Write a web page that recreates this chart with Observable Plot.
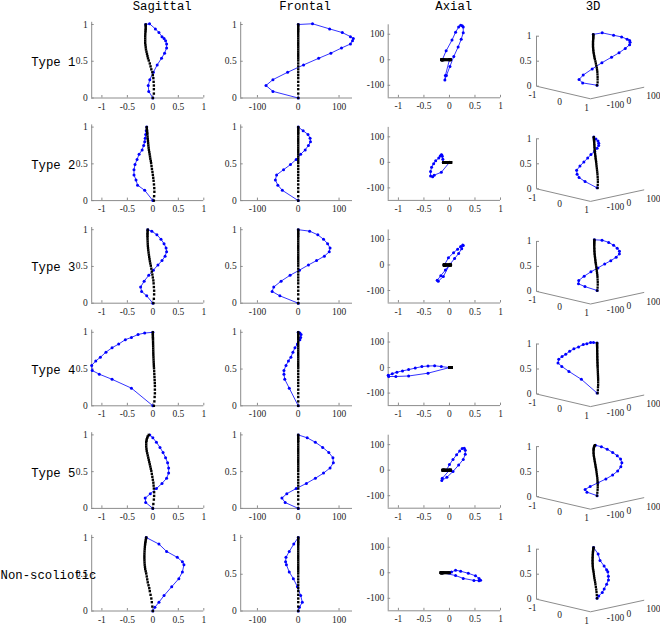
<!DOCTYPE html>
<html><head><meta charset="utf-8">
<script src="https://cdn.jsdelivr.net/npm/d3@7"></script>
<script src="https://cdn.jsdelivr.net/npm/@observablehq/plot@0.6"></script>
<style>
body{margin:0;background:#fff;}
#root{position:relative;width:660px;height:625px;overflow:hidden;background:#fff;}
#root svg{position:absolute;overflow:visible;background:transparent;}
</style></head><body><div id="root"></div>
<script>
// ---------- data ----------
const columns = ["Sagittal", "Frontal", "Axial", "3D"];
const rowLabels = ["Type 1", "Type 2", "Type 3", "Type 4", "Type 5", "Non-scoliotic"];
const sagTicks = [-1, -0.5, 0, 0.5, 1];
const frontTicks = [-100, 0, 100];
const axialXTicks = [-1, -0.5, 0, 0.5, 1];
const axialYTicks = [-100, 0, 100];
const heightTicks = [0, 0.5, 1];
const d3STicks = [-1, 0, 1];
const d3FTicks = [-100, 0, 100];

// black (reference spine): heights, sagittal offsets per type, frontal offsets
const blackH = [0, 0.06, 0.12, 0.17, 0.22, 0.27, 0.31, 0.35, 0.39, 0.43, 0.47, 0.51, 0.54, 0.57, 0.60, 0.63, 0.66, 0.69, 0.72, 0.75, 0.78, 0.81, 0.84, 0.87, 0.90, 0.92, 0.94, 0.96, 0.98, 1.0];
const blackF = [0,0,0,0,0,0,0,0,0,0,0,0,0,0,0,0,0,0,0,0,0,0,0,0,0,0,0,0,0,0];
const blackS1 = [0, 0.02, 0.02, 0.02, 0.015, 0.01, 0, -0.01, -0.03, -0.045, -0.06, -0.08, -0.095, -0.105, -0.115, -0.125, -0.135, -0.14, -0.145, -0.15, -0.15, -0.15, -0.15, -0.148, -0.145, -0.143, -0.14, -0.14, -0.14, -0.14];
const blackS2 = [0.02, 0.025, 0.03, 0.028, 0.022, 0.015, 0.008, 0, -0.008, -0.018, -0.026, -0.034, -0.04, -0.05, -0.056, -0.063, -0.07, -0.078, -0.083, -0.088, -0.092, -0.096, -0.1, -0.104, -0.108, -0.11, -0.113, -0.115, -0.118, -0.12];
const blackS3 = [0.01, 0.02, 0.025, 0.025, 0.02, 0.015, 0.01, 0, -0.01, -0.02, -0.03, -0.04, -0.05, -0.058, -0.065, -0.072, -0.078, -0.084, -0.09, -0.094, -0.098, -0.1, -0.102, -0.104, -0.105, -0.105, -0.105, -0.104, -0.102, -0.1];
const blackS4 = [0.02, 0.03, 0.035, 0.04, 0.04, 0.04, 0.038, 0.035, 0.032, 0.029, 0.026, 0.023, 0.02, 0.018, 0.016, 0.014, 0.012, 0.01, 0.009, 0.008, 0.007, 0.006, 0.005, 0.004, 0.003, 0.002, 0.001, 0, 0, 0];
const blackS5 = [0, 0.01, 0.02, 0.025, 0.025, 0.02, 0.015, 0.01, 0, -0.01, -0.02, -0.03, -0.04, -0.05, -0.06, -0.07, -0.08, -0.09, -0.1, -0.11, -0.12, -0.125, -0.13, -0.13, -0.13, -0.125, -0.12, -0.11, -0.1, -0.08];
const blackS6 = [0, -0.01, -0.02, -0.03, -0.045, -0.06, -0.07, -0.085, -0.1, -0.11, -0.12, -0.13, -0.14, -0.15, -0.155, -0.16, -0.163, -0.165, -0.166, -0.166, -0.165, -0.163, -0.16, -0.157, -0.153, -0.15, -0.145, -0.14, -0.135, -0.13];

// blue (subject curve): height, sagittal offset, frontal offset
const blueH1 = [1.0, 1.01, 0.94, 0.89, 0.835, 0.81, 0.78, 0.735, 0.68, 0.61, 0.54, 0.45, 0.35, 0.25, 0.17, 0.09, 0];
const blueS1 = [-0.14, -0.065, 0.05, 0.12, 0.18, 0.22, 0.25, 0.27, 0.27, 0.23, 0.17, 0.085, 0.01, -0.06, -0.09, -0.08, 0];
const blueF1 = [0, 35, 77, 108, 128, 135, 133, 128, 106, 80, 50, 13, -26, -62, -79, -62, 0];

const blueH2 = [1.0, 0.95, 0.9, 0.85, 0.8, 0.75, 0.69, 0.63, 0.56, 0.49, 0.42, 0.35, 0.28, 0.21, 0.14, 0];
const blueS2 = [-0.12, -0.13, -0.14, -0.15, -0.16, -0.18, -0.21, -0.27, -0.31, -0.35, -0.37, -0.37, -0.33, -0.3, -0.16, 0];
const blueF2 = [0, 12, 24, 29, 30, 25, 17, 6, -5, -19, -36, -53, -56, -50, -39, 0];

const blueH3 = [1.0, 0.98, 0.93, 0.87, 0.81, 0.75, 0.7, 0.64, 0.58, 0.52, 0.45, 0.38, 0.3, 0.22, 0.16, 0.1, 0];
const blueS3 = [-0.1, -0.02, 0.08, 0.16, 0.22, 0.26, 0.27, 0.24, 0.18, 0.1, 0.01, -0.08, -0.17, -0.24, -0.22, -0.12, 0];
const blueF3 = [0, 28, 48, 62, 72, 78, 76, 64, 45, 25, 3, -20, -42, -60, -64, -45, 0];

const blueH4 = [1.0, 0.99, 0.97, 0.93, 0.9, 0.84, 0.79, 0.73, 0.66, 0.61, 0.55, 0.48, 0.43, 0.36, 0.24, 0];
const blueS4 = [0, -0.16, -0.29, -0.42, -0.54, -0.67, -0.8, -0.92, -1.03, -1.12, -1.2, -1.19, -1.05, -0.8, -0.42, 0];
const blueF4 = [0, 4, 7, 6, 4, -2, -8, -13, -18, -24, -30, -35, -35, -33, -22, 0];

const blueH5 = [1.0, 0.96, 0.9, 0.83, 0.76, 0.69, 0.62, 0.55, 0.48, 0.41, 0.34, 0.27, 0.2, 0.14, 0.08, 0];
const blueS5 = [-0.06, 0.0, 0.07, 0.14, 0.2, 0.25, 0.29, 0.31, 0.31, 0.27, 0.18, 0.07, -0.05, -0.15, -0.14, 0];
const blueF5 = [0, 22, 42, 60, 75, 85, 86, 78, 62, 42, 20, -5, -28, -40, -32, 0];

const blueH6 = [1.0, 0.91, 0.81, 0.73, 0.67, 0.63, 0.53, 0.44, 0.33, 0.21, 0.12, 0.05, 0];
const blueS6 = [-0.13, 0.12, 0.27, 0.48, 0.58, 0.61, 0.58, 0.51, 0.37, 0.22, 0.12, 0.04, 0];
const blueF6 = [0, -11, -22, -30, -31, -29, -22, -12, -2, 6, 10, 3, 0];

// ---------- build ----------
const zip = (h, s, f) => h.map((v, i) => ({h: v, s: s[i], f: f[i]}));
const types = [
  {blue: zip(blueH1, blueS1, blueF1), black: zip(blackH, blackS1, blackF)},
  {blue: zip(blueH2, blueS2, blueF2), black: zip(blackH, blackS2, blackF)},
  {blue: zip(blueH3, blueS3, blueF3), black: zip(blackH, blackS3, blackF)},
  {blue: zip(blueH4, blueS4, blueF4), black: zip(blackH, blackS4, blackF)},
  {blue: zip(blueH5, blueS5, blueF5), black: zip(blackH, blackS5, blackF)},
  {blue: zip(blueH6, blueS6, blueF6), black: zip(blackH, blackS6, blackF)}
];

const root = document.getElementById("root");
const AXIS = "#8c8c8c";
const BLUE = "#0000ff";
const TXT = "#262626";
const TICKFONT = {fontFamily: "'Liberation Serif', 'Times New Roman', serif", fontSize: 9.5, fill: TXT};
const MONO = "'Liberation Mono', 'Courier New', monospace";
const ROW = 102.6;

function place(svg, left, top) {
  svg.style.left = left + "px";
  svg.style.top = top + "px";
  root.appendChild(svg);
}

function panel2D({x0, x1, xDom, yBottom, yTop, yDom, xTicks, yTicks, marks}) {
  const svgLeft = Math.floor(x0) - 34;
  const svgTop = Math.floor(yTop) - 6;
  const W = Math.ceil(x1) - svgLeft + 12;
  const H = Math.ceil(yBottom) - svgTop + 18;
  const kx = (xDom[1] - xDom[0]) / (x1 - x0);
  const ky = (yDom[1] - yDom[0]) / (yBottom - yTop);
  const tk = 2.5;
  const svg = Plot.plot({
    width: W, height: H, margin: 0,
    x: {domain: xDom, range: [x0 - svgLeft, x1 - svgLeft], axis: null},
    y: {domain: yDom, range: [yBottom - svgTop, yTop - svgTop], axis: null},
    marks: [
      Plot.ruleX([xDom[0]], {x: d => d, y1: yDom[0], y2: yDom[1], stroke: AXIS, strokeWidth: 1}),
      Plot.ruleY([yDom[0]], {y: d => d, x1: xDom[0], x2: xDom[1], stroke: AXIS, strokeWidth: 1}),
      Plot.ruleX(xTicks, {x: d => d, y1: yDom[0], y2: yDom[0] + tk * ky, stroke: AXIS}),
      Plot.ruleY(yTicks, {y: d => d, x1: xDom[0], x2: xDom[0] + tk * kx, stroke: AXIS}),
      Plot.text(xTicks, {x: d => d, y: yDom[0], dy: 8.5, text: d => String(d), ...TICKFONT}),
      Plot.text(yTicks, {x: xDom[0], y: d => d, dx: -4, textAnchor: "end", text: d => String(d), ...TICKFONT}),
      ...marks
    ]
  });
  place(svg, svgLeft, svgTop);
}

function curveMarks(t, xk, yk, sq) {
  return [
    Plot.line(t.blue, {x: xk, y: yk, stroke: BLUE, strokeWidth: 0.8}),
    Plot.dot(t.blue, {x: xk, y: yk, r: 1.5, fill: BLUE}),
    Plot.dot(t.black, {x: xk, y: yk, symbol: "square", r: sq, fill: "black"})
  ];
}

// 3D projection limits
const S3 = [-1, 1];
const F3 = [-170, 100];

types.forEach((t, r) => {
  const yb = 97.5 + r * ROW;
  // Sagittal
  panel2D({x0: 91.2, x1: 203.3, xDom: [-1.2, 1], yBottom: yb, yTop: yb - 73.5 * 1.03, yDom: [0, 1.03],
    xTicks: sagTicks, yTicks: heightTicks, marks: curveMarks(t, "s", "h", 1.35)});
  // Frontal
  panel2D({x0: 240.2, x1: 352, xDom: [-141, 133], yBottom: yb, yTop: yb - 73.5 * 1.03, yDom: [0, 1.03],
    xTicks: frontTicks, yTicks: heightTicks, marks: curveMarks(t, "f", "h", 1.35)});
  // Axial
  panel2D({x0: 387.7, x1: 500, xDom: [-1.2, 1], yBottom: 97.3 + r * ROW, yTop: 24.3 + r * ROW, yDom: [-149, 137],
    xTicks: axialXTicks, yTicks: axialYTicks, marks: curveMarks(t, "s", "f", 1.5)});

  // 3D
  const top = Math.round(r * ROW + 20), left = 500, W = 160, H = 96;
  const ax = 536, ay = 85.7 + r * ROW;
  const proj = (s, f, h) => {
    const us = (s - S3[0]) / (S3[1] - S3[0]);
    const uf = (f - F3[0]) / (F3[1] - F3[0]);
    return {x: ax + us * 54 + uf * 53.3, y: ay + us * 12.6 - uf * 11.5 - h * 50};
  };
  const P = d => proj(d.s, d.f, d.h);
  const blue3 = t.blue.map(P);
  const black3 = t.black.map(P);
  const frame = [proj(S3[0], F3[0], 1), proj(S3[0], F3[0], 0), proj(S3[1], F3[0], 0), proj(S3[1], F3[1], 0)];
  const hT = heightTicks.map(h => ({h, ...proj(S3[0], F3[0], h)}));
  const sT = d3STicks.map(s => ({s, ...proj(s, F3[0], 0)}));
  const fT = d3FTicks.map(f => ({f, ...proj(S3[1], f, 0)}));
  const svg = Plot.plot({
    width: W, height: H, margin: 0,
    x: {domain: [left, left + W], range: [0, W], axis: null},
    y: {domain: [top, top + H], range: [0, H], axis: null},
    marks: [
      Plot.line(frame, {x: "x", y: "y", stroke: AXIS, strokeWidth: 1}),
      Plot.link(hT, {x1: "x", y1: "y", x2: d => d.x + 2.5, y2: "y", stroke: AXIS}),
      Plot.text(hT, {x: "x", y: "y", dx: -5, textAnchor: "end", text: d => String(d.h), ...TICKFONT}),
      Plot.text(sT, {x: "x", y: "y", dx: -4, dy: 9, text: d => String(d.s), ...TICKFONT}),
      Plot.text(fT, {x: "x", y: "y", dx: 2.5, dy: 9, textAnchor: "start", text: d => String(d.f), ...TICKFONT}),
      Plot.line(blue3, {x: "x", y: "y", stroke: BLUE, strokeWidth: 0.8}),
      Plot.dot(blue3, {x: "x", y: "y", r: 1.5, fill: BLUE}),
      Plot.dot(black3, {x: "x", y: "y", symbol: "square", r: 1.3, fill: "black"})
    ]
  });
  place(svg, left, top);
});

// titles and row labels overlay
const titleX = [161.7, 304.5, 453.3, 592.5];
const overlay = Plot.plot({
  width: 660, height: 625, margin: 0,
  x: {domain: [0, 660], range: [0, 660], axis: null},
  y: {domain: [0, 625], range: [0, 625], axis: null},
  marks: [
    Plot.text(columns, {x: (d, i) => titleX[i], y: 5.5, text: d => d, fontFamily: MONO, fontSize: 12.3, fill: "#000"}),
    Plot.text(rowLabels, {x: (d, i) => (i < 5 ? 30.7 : 0), y: (d, i) => 61.7 + i * ROW, text: d => d, textAnchor: "start",
      fontFamily: MONO, fontSize: 12.3, fill: "#000"})
  ]
});
overlay.style.pointerEvents = "none";
place(overlay, 0, 0);
</script>
</body></html>
